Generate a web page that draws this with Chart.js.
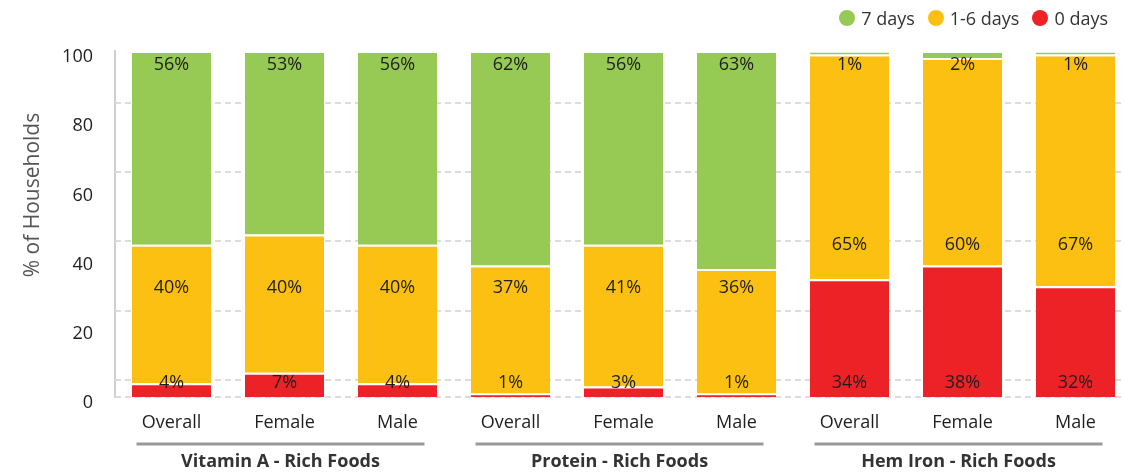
<!DOCTYPE html>
<html>
<head>
<meta charset="utf-8">
<script src="https://cdn.jsdelivr.net/npm/chart.js@4.4.0/dist/chart.umd.min.js"></script>
<style>
  body { margin: 0; background: #fff; overflow: hidden; }
  #wrap { position: relative; width: 1124px; height: 473px; overflow: hidden; font-family: "Open Sans", sans-serif; }
  #legend { position: absolute; top: 6px; right: 16px; display: flex; align-items: center; font-size: 18px; color: #333; z-index: 2; }
  #legend span.item { display: flex; align-items: center; margin-left: 13px; }
  #legend span.dot { width: 16px; height: 16px; border-radius: 50%; margin-right: 6px; display: inline-block; }
  canvas { position: absolute; left: 0; top: 0; }
</style>
</head>
<body>
<div id="wrap">
  <div id="legend"></div>
  <canvas id="myChart" width="1132" height="473"></canvas>
</div>
<script>
var categories = ["Overall", "Female", "Male", "Overall", "Female", "Male", "Overall", "Female", "Male"];
var groups = ["Vitamin A - Rich Foods", "Protein - Rich Foods", "Hem Iron - Rich Foods"];
var zeroDays = [4, 7, 4, 1, 3, 1, 34, 38, 32];
var oneToSixDays = [40, 40, 40, 37, 41, 36, 65, 60, 67];
var sevenDays = [56, 53, 56, 62, 56, 63, 1, 2, 1];
var seriesNames = ["0 days", "1-6 days", "7 days"];

var RED = "#ec2227";
var YELLOW = "#fcc013";
var GREEN = "#97c955";
var FONT = '"Open Sans", sans-serif';

// legend (top right, reverse order)
var legend = document.getElementById("legend");
[[seriesNames[2], GREEN], [seriesNames[1], YELLOW], [seriesNames[0], RED]].forEach(function (it) {
  var s = document.createElement("span");
  s.className = "item";
  s.innerHTML = '<span class="dot" style="background:' + it[1] + '"></span>' + it[0];
  legend.appendChild(s);
});

var extras = {
  id: "extras",
  beforeDatasetsDraw: function (chart) {
    // dashed guide lines
    var ctx = chart.ctx, y = chart.scales.y, a = chart.chartArea;
    ctx.save();
    ctx.strokeStyle = "#dcdcdc";
    ctx.lineWidth = 2;
    ctx.setLineDash([6, 4]);
    [0, 5, 25, 45, 65, 85].forEach(function (v) {
      var py = Math.round(y.getPixelForValue(v));
      ctx.beginPath();
      ctx.moveTo(a.left, py);
      ctx.lineTo(a.right, py);
      ctx.stroke();
    });
    ctx.restore();
  },
  afterDatasetsDraw: function (chart) {
    var ctx = chart.ctx, y = chart.scales.y;
    ctx.save();
    ctx.font = "18px " + FONT;
    ctx.fillStyle = "#1e1e1e";
    ctx.textAlign = "center";
    ctx.textBaseline = "middle";
    var red = chart.getDatasetMeta(0).data;
    var mid = chart.getDatasetMeta(1).data;
    var top = chart.getDatasetMeta(2).data;
    for (var i = 0; i < categories.length; i++) {
      // red label near base
      ctx.fillText(zeroDays[i] + "%", red[i].x, red[i].base - 14);
      // middle label, kept clear of the red labels in the group
      var g = Math.floor(i / 3) * 3;
      var maxRed = Math.max(zeroDays[g], zeroDays[g + 1], zeroDays[g + 2]);
      var v = Math.max(31.5, maxRed + 6);
      ctx.fillText(oneToSixDays[i] + "%", mid[i].x, y.getPixelForValue(v));
      // top label
      ctx.fillText(sevenDays[i] + "%", top[i].x, y.getPixelForValue(100) + 14);
    }
    ctx.restore();
  },
  afterDraw: function (chart) {
    var ctx = chart.ctx, x = chart.scales.x;
    ctx.save();
    // group lines + labels
    for (var gi = 0; gi < groups.length; gi++) {
      var c = x.getPixelForValue(gi * 3 + 1);
      ctx.strokeStyle = "#999";
      ctx.lineWidth = 3;
      ctx.beginPath();
      ctx.moveTo(c - 148, 444);
      ctx.lineTo(c + 140, 444);
      ctx.stroke();
      ctx.font = "bold 18px " + FONT;
      ctx.fillStyle = "#333";
      ctx.textAlign = "center";
      ctx.textBaseline = "middle";
      ctx.fillText(groups[gi], c - 4, 462);
    }
    // y title
    ctx.translate(33, 195);
    ctx.rotate(-Math.PI / 2);
    ctx.font = "21px " + FONT;
    ctx.fillStyle = "#555";
    ctx.fillText("% of Households", 0, 0);
    ctx.restore();
  }
};

var ctx = document.getElementById("myChart").getContext("2d");
var chart = new Chart(ctx, {
  type: "bar",
  data: {
    labels: categories,
    datasets: [
      { label: seriesNames[0], data: zeroDays, backgroundColor: RED },
      { label: seriesNames[1], data: oneToSixDays, backgroundColor: YELLOW },
      { label: seriesNames[2], data: sevenDays, backgroundColor: GREEN }
    ]
  },
  options: {
    responsive: false,
    animation: false,
    layout: { padding: { left: 0, right: 0, top: 51, bottom: 0 } },
    datasets: {
      bar: {
        categoryPercentage: 1,
        barPercentage: 0.7,
        borderColor: "#fff",
        borderWidth: { top: 2, left: 0, right: 0, bottom: 0 },
        borderSkipped: false
      }
    },
    plugins: {
      legend: { display: false },
      tooltip: { enabled: false }
    },
    scales: {
      x: {
        stacked: true,
        grid: { display: false },
        border: { display: false },
        ticks: { color: "#1e1e1e", font: { family: FONT, size: 18 }, padding: 7, maxRotation: 0 },
        afterFit: function (s) { s.height = 76; }
      },
      y: {
        stacked: true,
        min: 0,
        max: 100,
        grid: { display: false },
        border: { display: true, color: "#cfcfcf", width: 2 },
        ticks: { stepSize: 20, color: "#1e1e1e", font: { family: FONT, size: 18 }, padding: 14, labelOffset: 6 },
        afterFit: function (s) { s.width = 115; }
      }
    }
  },
  plugins: [extras]
});
</script>
</body>
</html>
